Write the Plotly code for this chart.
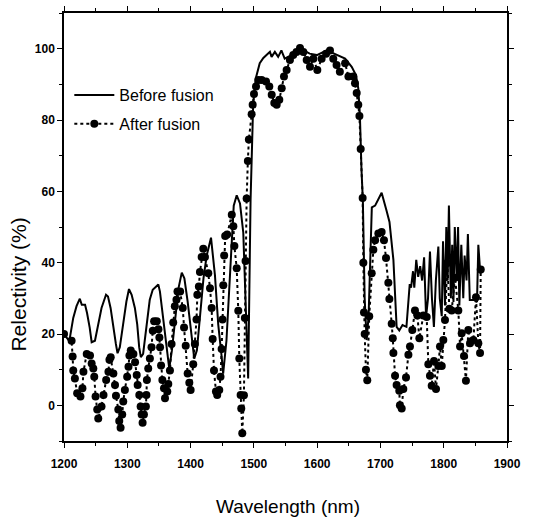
import plotly.graph_objects as go

# ---- Data ----
before_wl = [1200, 1208.4, 1214.6, 1219.8, 1225, 1228.1, 1233.3, 1236.4, 1240.6, 1243.7, 1248.9, 1254.1,
             1259.3, 1266.4, 1269.5, 1273.6, 1277.8, 1282, 1284.6, 1288.2, 1293.4, 1298.6, 1302.7, 1306.9,
             1312, 1315.7, 1318.8, 1321.4, 1325, 1330.3, 1335.5, 1340.2, 1345.4, 1349, 1351.6, 1355.9,
             1361.1, 1366.3, 1370.5, 1375.7, 1380.9, 1386.1, 1390.2, 1395.4, 1400.6, 1405.8, 1410, 1415.2,
             1420.4, 1425.5, 1432.3, 1438.5, 1443.7, 1448.9, 1451.5, 1456.7, 1460.9, 1464, 1468.2, 1472.9,
             1478.1, 1483.3, 1485.9, 1488.5, 1491, 1494.8, 1496.9, 1498.9, 1503.1, 1509.3, 1515, 1520.2,
             1525.4, 1528, 1533.2, 1538.4, 1543.5, 1548.7, 1557, 1567.4, 1575.7, 1588.2, 1599.6, 1615.1,
             1630.7, 1644.2, 1654.6, 1661.3, 1665, 1667.5, 1670.1, 1672.2, 1675.1, 1678.2, 1681.3, 1684.4,
             1686.4, 1691.6, 1701.9, 1709.6, 1714.3, 1720.5, 1725.6, 1729.8, 1734.9, 1741.1, 1744.2, 1746.3,
             1748.4, 1751.5, 1753.5, 1756.6, 1759.7, 1762.8, 1765.9, 1769, 1772.1, 1775.2, 1778.3, 1781.4,
             1784.5, 1787.6, 1791.5, 1793.8, 1796.9, 1798.9, 1802, 1804.1, 1806.2, 1808.2, 1811.3, 1813.4,
             1815.4, 1817.5, 1820.6, 1822.7, 1824.7, 1827.8, 1830.9, 1833, 1836.1, 1838.2, 1841.2, 1844.3,
             1848.5, 1852.6, 1854.7, 1857.8]
before_r = [20, 18, 24.5, 27.8, 29.9, 28.2, 28.2, 25.9, 21.8, 17.7, 18.1, 22.3,
            27.3, 31, 30.5, 27.3, 21.8, 17.2, 14.6, 16.3, 22.7, 29.1, 32.6, 31,
            27.3, 22.7, 16.3, 13.5, 14.4, 22.7, 29.6, 32.4, 33.3, 33.9, 31.9, 25.5,
            16.3, 10.3, 15.4, 24.6, 32.8, 37.2, 35.6, 29.1, 20.9, 13.1, 15.4, 25.5,
            35.6, 42, 47, 36.5, 22.7, 14, 8.9, 18.1, 31.9, 45, 56, 58.9,
            56.6, 48.4, 34.7, 18.1, 7.5, 57.6, 75, 84.3, 91.7, 95.9, 97.4, 98.2,
            99.1, 97.7, 99.1, 97.7, 99.5, 97.2, 98, 99.6, 99.8, 98.6, 98.2, 99.5,
            98.2, 97.2, 94.9, 92.6, 88.9, 81.6, 65.9, 57.6, 30, 18.3, 25, 45,
            55.5, 56, 59.6, 54.6, 51.4, 40.8, 22, 21, 22.5, 22, 30, 34,
            33, 37.6, 33, 40.8, 36, 39, 35, 41.5, 24.8, 30, 43.1, 30,
            22, 35, 44.5, 30, 25, 46, 28, 50, 35, 56, 30, 45,
            29, 50, 35, 50, 28, 45, 30, 42, 35, 48, 29.5, 29.5,
            29.5, 29, 45, 37]

after_wl = [1200, 1212, 1213.6, 1214.6, 1217.2, 1220.8, 1226, 1229.1, 1230.7, 1235.9, 1241.1, 1243.7,
            1246.3, 1247.8, 1249.9, 1252.5, 1254.1, 1259.3, 1262.4, 1266.6, 1270.2, 1271.8, 1273.8, 1278,
            1280.6, 1282.1, 1285.8, 1287.3, 1289.4, 1292, 1293.6, 1296.2, 1299.8, 1301.9, 1303.4, 1305.5,
            1309.7, 1312.3, 1314.9, 1316.4, 1319, 1321.1, 1322.7, 1324.2, 1326.3, 1329.4, 1330.2, 1331,
            1333.1, 1335.7, 1338.3, 1340.3, 1342.4, 1346.6, 1349.2, 1350.7, 1351.8, 1353.4, 1355.4, 1358,
            1359.6, 1363.2, 1364.8, 1367.4, 1370, 1372.6, 1375.1, 1377.7, 1379.3, 1383.5, 1387.6, 1389.7,
            1392.3, 1395.4, 1398, 1400.1, 1404.2, 1406.8, 1409.4, 1410.7, 1413.1, 1414.8, 1417.5, 1420.1,
            1422.7, 1428, 1430.7, 1433.3, 1434.9, 1437, 1440.1, 1442.1, 1445.3, 1447.3, 1449.1, 1450.5,
            1451.7, 1453.1, 1454.7, 1457.8, 1465.1, 1467.6, 1469.2, 1472.9, 1475.4, 1477, 1479.1, 1480.1,
            1481.7, 1484.3, 1485.8, 1486.9, 1488.6, 1490.5, 1492.1, 1496.5, 1498.1, 1500.2, 1503.4, 1507,
            1512.3, 1519.2, 1524.4, 1528.2, 1532.3, 1536.1, 1540.2, 1544, 1547.6, 1551.8, 1557, 1562.2,
            1567.4, 1572.9, 1578.2, 1583.5, 1588.7, 1594, 1600.3, 1607.1, 1614.1, 1620.3, 1625.5, 1630.7,
            1635.9, 1644.2, 1649.4, 1657.2, 1659.8, 1662.5, 1665, 1666.8, 1668.8, 1671.9, 1673, 1674,
            1675.1, 1677.1, 1679.2, 1682.3, 1686.2, 1688.8, 1691.6, 1696.7, 1701.9, 1705.6, 1708.8, 1712.5,
            1714.1, 1717.8, 1719.5, 1720.5, 1723.1, 1725.6, 1729.8, 1730.8, 1733.6, 1736.2, 1740.4, 1744.2,
            1746.7, 1750.4, 1754.6, 1758.4, 1761.5, 1767.8, 1773.1, 1775.7, 1778.3, 1781, 1784.7, 1787.8,
            1791.5, 1794.1, 1796.9, 1799.4, 1802, 1805.8, 1808.9, 1812.6, 1817.9, 1823.1, 1825.8, 1828.4,
            1832, 1835.1, 1838.9, 1841.6, 1846.9, 1851, 1854.7, 1857.4, 1858.5]
after_r = [20, 18.1, 13.7, 9.8, 7.5, 3.4, 2.5, 4.8, 9.4, 14.4, 14.0, 11.7,
           10.3, 8.0, 2.5, -1.2, -3.7, -0.3, 2.9, 7.1, 9.4, 12.8, 13.5, 8.9,
           5.7, 2.7, -1.2, -4.4, -6.3, -2.6, 1.1, 4.3, 8.0, 10.8, 14.0, 15.4,
           14.4, 12.1, 8.5, 5.7, 2.9, -0.3, -2.6, -4.9, -2.6, -0.3, 2.9, 7.1,
           10.3, 13.1, 16.3, 20.9, 23.6, 23.6, 21.3, 19.0, 16.3, 11.2, 7.1, 4.8,
           2.0, 3.9, 6.0, 9.8, 17.2, 23.2, 27.8, 29.6, 31.9, 31.9, 27.3, 21.8,
           16.7, 8.9, 6.3, 4.3, 11.5, 17.2, 24.1, 31.0, 33.3, 37.4, 41.6, 43.9,
           41.6, 37.0, 32.8, 27.3, 18.6, 9.8, 3.9, 2.9, 4.3, 8.0, 15.8, 24.1,
           33.7, 42, 47.5, 47.9, 53.4, 50.2, 44.7, 38.4, 26.5, 13.1, 2.9, -0.9,
           -7.8, 2.8, 24.5, 40.5, 58, 68.5, 74.5, 81.6, 84.3, 87.3, 89.4, 91.2,
           91.2, 90.8, 89.4, 87.1, 84.8, 84.3, 85.7, 88.9, 92.2, 94, 96.8, 98.2,
           99.1, 100.2, 99.1, 96.8, 94.9, 97.2, 94, 97.2, 98.6, 99.5, 97.2, 95.4,
           93.5, 95.9, 92.2, 92.2, 90.3, 87.6, 84.3, 81.1, 71.9, 58.1, 40, 26,
           20, 10, 7, 25, 37, 43.6, 46.3, 48.2, 48.6, 46.3, 41.3, 34.4,
           29.8, 22.9, 18.8, 14.7, 8.3, 5.7, 4.1, 0, -0.9, 4.6, 7.8, 14.2,
           16.5, 21.1, 26.6, 25.2, 18.8, 25.2, 24.8, 11.5, 8.3, 5.5, 12.4, 4.6,
           11, 16.5, 11, 18.3, 23.9, 39.9, 27.1, 26.6, 35.8, 26.6, 16.5, 20.2,
           13.8, 6.9, 21.1, 17.4, 18.3, 30.3, 17.4, 14.7, 38.1]

x_ticks = [1200, 1300, 1400, 1500, 1600, 1700, 1800, 1900]
y_ticks = [0, 20, 40, 60, 80, 100]
x_title = "Wavelength (nm)"
y_title = "Relectivity (%)"

FONT = "Liberation Sans"
W, H = 543, 526
ML, MR, MT, MB = 64, 36, 6, 85

fig = go.Figure()
fig.add_trace(go.Scatter(
    x=before_wl, y=before_r, mode="lines", name="Before fusion",
    legendgroup="a",
    line=dict(color="black", width=2)))
fig.add_trace(go.Scatter(
    x=after_wl, y=after_r, mode="lines+markers", name="After fusion",
    legendgroup="b",
    line=dict(color="black", width=2, dash="dot"),
    marker=dict(size=8, color="black")))

axis_common = dict(
    showline=True, linecolor="black", linewidth=1.5, mirror="ticks",
    ticks="outside", ticklen=5, tickwidth=1, tickcolor="black",
    showgrid=False, zeroline=False,
    tickfont=dict(family=FONT, size=12, color="black", weight="bold"),
)

fig.update_xaxes(range=[1200, 1900], tickvals=x_ticks, ticklabelstandoff=6,
                 minor=dict(dtick=50, ticklen=3, tickcolor="black", ticks="outside"),
                 **axis_common)
fig.update_yaxes(range=[-10, 110], tickvals=y_ticks,
                 minor=dict(dtick=10, ticklen=3, tickcolor="black", ticks="outside"),
                 **axis_common)

plot_w = W - ML - MR
plot_h = H - MT - MB
fig.add_annotation(text=x_title, xref="paper", yref="paper",
                   x=(288 - ML) / plot_w, y=-(508 - (H - MB)) / plot_h,
                   showarrow=False, xanchor="center", yanchor="middle",
                   font=dict(family=FONT, size=19, color="black"))
fig.add_annotation(text=y_title, xref="paper", yref="paper",
                   x=-(ML - 19) / plot_w, y=((H - MB) - 282) / plot_h,
                   showarrow=False, xanchor="center", yanchor="middle", textangle=-90,
                   font=dict(family=FONT, size=21, color="black"))

fig.update_layout(
    width=W, height=H,
    margin=dict(l=ML, r=MR, t=MT, b=MB),
    paper_bgcolor="white", plot_bgcolor="white",
    font=dict(family=FONT, color="black"),
    legend=dict(x=0.012, y=0.848, xanchor="left", yanchor="top",
                bgcolor="rgba(0,0,0,0)", font=dict(family=FONT, size=16, color="black"),
                itemwidth=40, tracegroupgap=5, traceorder="grouped"),
    showlegend=True,
)

fig.write_html("out.html", config={"displayModeBar": False},
               post_script="document.body.style.margin='0px';")
